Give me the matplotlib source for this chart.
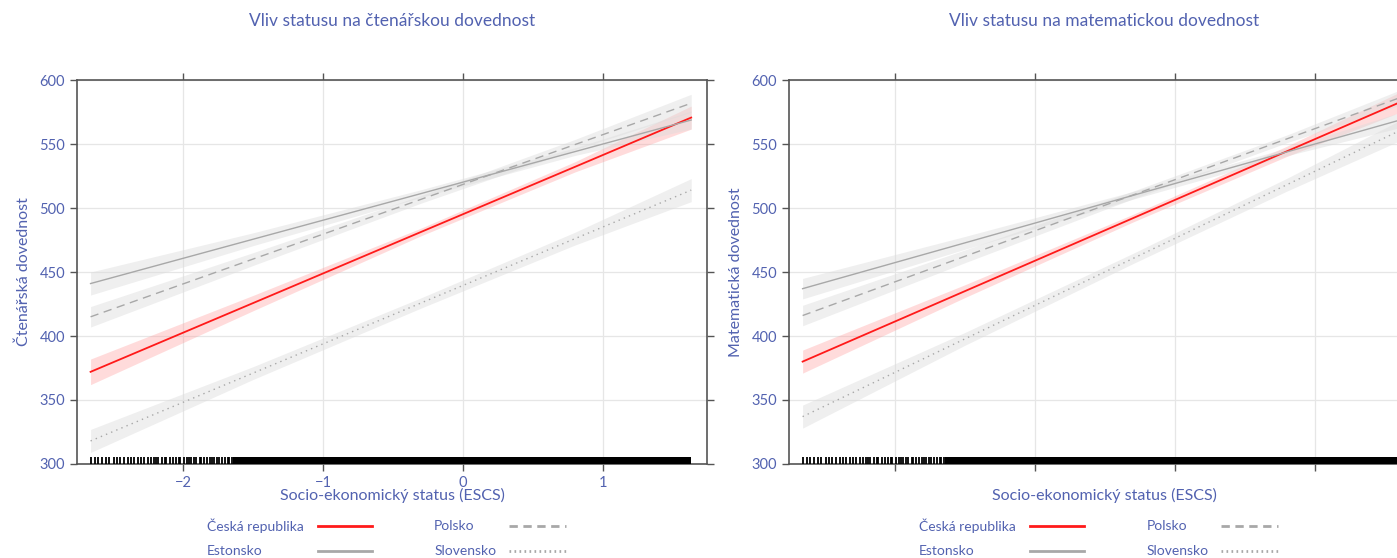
import matplotlib
matplotlib.use('Agg')
import matplotlib.pyplot as plt
from matplotlib.lines import Line2D

plt.rcParams['font.family'] = ['Lato', 'DejaVu Sans']

TXT = '#5262b0'

# ESCS points where the fits / confidence bands were read
escs_pts = [-2.66, -1.5, -0.3, 0.8, 1.63]

countries = ['Česká republika', 'Polsko', 'Estonsko', 'Slovensko']

# reading skill (fit + CI half width)
read_cz = [372, 425.7, 481.3, 532.2, 570.7]
read_cz_ci = [10, 6, 3, 4, 9]
read_ee = [441, 475.6, 511.3, 544.1, 568.8]
read_ee_ci = [9, 5, 3, 3, 7]
read_pl = [415, 460.1, 506.8, 549.6, 581.9]
read_pl_ci = [8, 5, 3, 4, 7]
read_sk = [318, 371.0, 425.8, 476.1, 514.0]
read_sk_ci = [9, 5, 4, 5, 9]

# math skill
math_cz = [380, 435.1, 492.1, 544.4, 583.8]
math_cz_ci = [9, 5, 3, 4, 8]
math_ee = [437, 472.8, 509.9, 543.9, 569.5]
math_ee_ci = [8, 5, 3, 3, 6]
math_pl = [416, 462.3, 510.2, 554.1, 587.2]
math_pl_ci = [8, 5, 3, 3, 6]
math_sk = [337, 397.8, 460.6, 518.3, 561.8]
math_sk_ci = [9, 5, 4, 5, 8]

# rug of ESCS values: sparse low end + dense block
rug_sparse = [-2.66, -2.63, -2.61, -2.58, -2.55, -2.53, -2.49, -2.47, -2.45,
              -2.42, -2.39, -2.37, -2.35, -2.32, -2.30, -2.28, -2.25, -2.23,
              -2.21, -2.19, -2.18, -2.15, -2.13, -2.12, -2.09, -2.07, -2.05,
              -2.03, -2.02, -1.99, -1.97, -1.96, -1.94, -1.92, -1.91, -1.88,
              -1.87, -1.85, -1.83, -1.81, -1.79, -1.78, -1.76, -1.74, -1.72,
              -1.70, -1.68, -1.67, -1.65]
rug_dense = [-1.64, 1.63]

titles = ['Vliv statusu na čtenářskou dovednost',
          'Vliv statusu na matematickou dovednost']
ylabels = ['Čtenářská dovednost', 'Matematická dovednost']

styles = {
    'Česká republika': dict(color='#ff1a1a', ls='-', leg_ls='-', lw=1.3, fill='#ff9a9a', alpha=0.35),
    'Polsko': dict(color='#a8a8a8', ls=(0, (6, 4)), leg_ls=(0, (3, 2)), lw=1.0, fill='#dcdcdc', alpha=0.45),
    'Estonsko': dict(color='#a8a8a8', ls='-', leg_ls='-', lw=1.0, fill='#dcdcdc', alpha=0.45),
    'Slovensko': dict(color='#a8a8a8', ls=(0, (1, 3)), leg_ls=(0, (0.6, 1.2)), lw=1.0, fill='#dcdcdc', alpha=0.45),
}

panels = [
    {'Česká republika': (read_cz, read_cz_ci), 'Polsko': (read_pl, read_pl_ci),
     'Estonsko': (read_ee, read_ee_ci), 'Slovensko': (read_sk, read_sk_ci)},
    {'Česká republika': (math_cz, math_cz_ci), 'Polsko': (math_pl, math_pl_ci),
     'Estonsko': (math_ee, math_ee_ci), 'Slovensko': (math_sk, math_sk_ci)},
]

fig = plt.figure(figsize=(13.97, 5.58), dpi=100)
axes = [fig.add_axes([0.0551, 0.1685, 0.451, 0.688]),
        fig.add_axes([0.5648, 0.1685, 0.451, 0.688])]

for i, ax in enumerate(axes):
    data = panels[i]
    for c in countries:
        fit, ci = data[c]
        st = styles[c]
        lo = [f - h for f, h in zip(fit, ci)]
        hi = [f + h for f, h in zip(fit, ci)]
        ax.fill_between(escs_pts, lo, hi, color=st['fill'], alpha=st['alpha'], lw=0, zorder=2)
    for c in countries:
        fit, ci = data[c]
        st = styles[c]
        ax.plot(escs_pts, fit, color=st['color'], ls=st['ls'], lw=st['lw'], zorder=3)

    ax.vlines(rug_sparse, 300, 305.5, color='black', lw=1.3, zorder=4)
    ax.fill_between(rug_dense, 300, 305.5, color='black', lw=0, zorder=4)

    ax.set_xlim(-2.757, 1.743)
    ax.set_ylim(300, 600)
    ax.set_xticks([-2, -1, 0, 1])
    ax.set_yticks([300, 350, 400, 450, 500, 550, 600])
    ax.grid(color='#e6e6e6', lw=0.9, zorder=0)
    ax.set_axisbelow(True)
    for s in ax.spines.values():
        s.set_color('#555555')
        s.set_linewidth(1.2)
    ax.tick_params(direction='out', length=5, width=1, color='#555555',
                   labelcolor=TXT, labelsize=10.5, top=True, right=True)
    if i == 1:
        ax.tick_params(labelbottom=False)
    ax.text(0.5, 1.154, titles[i], transform=ax.transAxes, ha='center',
            va='center', color=TXT, fontsize=12.5)
    ax.set_ylabel(ylabels[i], color=TXT, fontsize=11.5, labelpad=6)
    ax.text(0.5, -0.081, 'Socio-ekonomický status (ESCS)', transform=ax.transAxes,
            ha='center', va='center', color=TXT, fontsize=11.5)

    # legend: label then line sample
    leg_pos = {'Česká republika': (0.206, -0.161, 0.383, 0.468),
               'Polsko': (0.567, -0.161, 0.686, 0.776),
               'Estonsko': (0.206, -0.227, 0.383, 0.468),
               'Slovensko': (0.567, -0.227, 0.686, 0.776)}
    for c in countries:
        tx, ty, l0, l1 = leg_pos[c]
        st = styles[c]
        ax.text(tx, ty, c, transform=ax.transAxes, ha='left', va='center',
                color=TXT, fontsize=10)
        ax.add_line(Line2D([l0, l1], [ty, ty], transform=ax.transAxes,
                           color=st['color'], ls=st['leg_ls'], lw=2, clip_on=False))

fig.savefig('out.png', dpi=100)
